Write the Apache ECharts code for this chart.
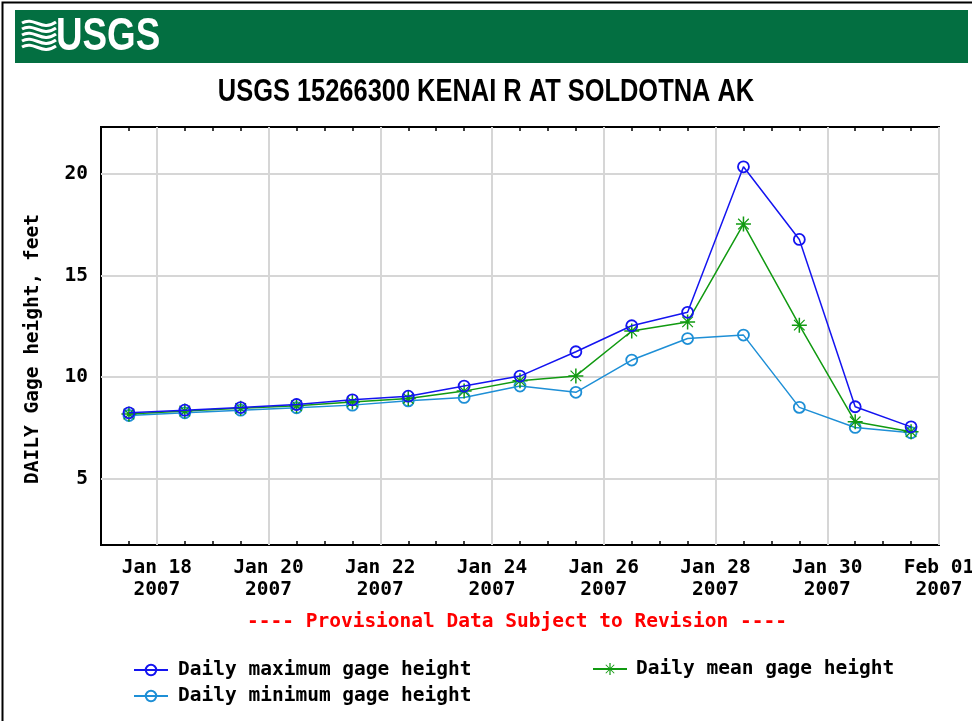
<!DOCTYPE html>
<html>
<head>
<meta charset="utf-8">
<script src="https://cdn.jsdelivr.net/npm/echarts@6/dist/echarts.min.js"></script>
<style>
html,body{margin:0;padding:0;background:#fff;}
#chart{width:972px;height:721px;}
</style>
</head>
<body>
<div id="chart"></div>
<script>
// ---- data ----
var dates = ['2007-01-17T12:00:00','2007-01-18T12:00:00','2007-01-19T12:00:00','2007-01-20T12:00:00',
  '2007-01-21T12:00:00','2007-01-22T12:00:00','2007-01-23T12:00:00','2007-01-24T12:00:00',
  '2007-01-25T12:00:00','2007-01-26T12:00:00','2007-01-27T12:00:00','2007-01-28T12:00:00',
  '2007-01-29T12:00:00','2007-01-30T12:00:00','2007-01-31T12:00:00'];
var maxVals  = [8.24, 8.37, 8.50, 8.65, 8.88, 9.06, 9.56, 10.05, 11.25, 12.53, 13.19, 20.36, 16.78, 8.54, 7.55];
var meanVals = [8.18, 8.33, 8.46, 8.59, 8.78, 8.95, 9.31, 9.82, 10.06, 12.27, 12.72, 17.54, 12.56, 7.80, 7.31];
var minVals  = [8.11, 8.24, 8.37, 8.49, 8.62, 8.83, 9.00, 9.56, 9.25, 10.84, 11.90, 12.07, 8.51, 7.52, 7.26];
var xTickDates  = ['2007-01-18','2007-01-20','2007-01-22','2007-01-24','2007-01-26','2007-01-28','2007-01-30','2007-02-01'];
var xTickLabels = ['Jan 18','Jan 20','Jan 22','Jan 24','Jan 26','Jan 28','Jan 30','Feb 01'];
var xTickYears  = ['2007','2007','2007','2007','2007','2007','2007','2007'];
var yTicks = [5, 10, 15, 20];
var seriesNames = ['Daily maximum gage height','Daily mean gage height','Daily minimum gage height'];
var titleText = 'USGS 15266300 KENAI R AT SOLDOTNA AK';
var yAxisTitle = 'DAILY Gage height, feet';
var noteText = '---- Provisional Data Subject to Revision ----';

function ts(s){ return new Date(s.length === 10 ? s + 'T00:00:00' : s).getTime(); }
var xMin = ts('2007-01-17'), xMax = ts('2007-02-01');
var tickTs = xTickDates.map(ts);
var labelMap = {};
tickTs.forEach(function(t,i){ labelMap[t] = '{a|' + xTickLabels[i] + '}\n{a|' + xTickYears[i] + '}'; });
// minor 12-hour ticks (excluding gridline positions)
var minorTicks = [];
for (var t = xMin + 43200000; t < xMax; t += 43200000) {
  if (tickTs.indexOf(t) < 0) minorTicks.push(t);
}
function pairs(vals){ return dates.map(function(d,i){ return [ts(d), vals[i]]; }); }

var MONO = '"DejaVu Sans Mono", "Liberation Mono", monospace';
var FS = 19.5;
var STAR = 'path://M-0.1,-1L0.1,-1L0.1,1L-0.1,1Z M-1,-0.1L1,-0.1L1,0.1L-1,0.1Z M-0.764,-0.65L-0.65,-0.764L0.764,0.65L0.65,0.764Z M0.65,-0.764L0.764,-0.65L-0.65,0.764L-0.764,0.65Z';

var cMax = '#1414f0', cMean = '#119a11', cMin = '#1e8fd6';

var chart = echarts.init(document.getElementById('chart'), null, {renderer:'canvas'});
var option = {
  animation: false,
  backgroundColor: '#fff',
  grid: { left: 101, top: 127, width: 838, height: 418, show: true, borderColor: '#000', borderWidth: 2, backgroundColor: 'transparent', containLabel: false, outerBoundsMode: 'none' },
  xAxis: [
    { type: 'value', min: xMin, max: xMax, position: 'bottom',
      axisLine: { show: false }, axisTick: { show: false, customValues: tickTs },
      splitLine: { show: true, lineStyle: { color: '#d6d6d6', width: 2 } },
      axisLabel: { customValues: tickTs, margin: 12, color: '#000',
        formatter: function(v){ return labelMap[v] || ''; },
        rich: { a: { fontFamily: MONO, fontWeight: 'bold', fontSize: FS, lineHeight: 22, color: '#000', align: 'center' } } } },
    { type: 'value', min: xMin, max: xMax, position: 'bottom', offset: 0,
      axisLine: { show: false }, axisLabel: { show: false }, splitLine: { show: false },
      axisTick: { show: true, inside: true, length: 4, customValues: minorTicks, lineStyle: { color: '#000', width: 1.5 } } },
    { type: 'value', min: xMin, max: xMax, position: 'top', offset: 0,
      axisLine: { show: false }, axisLabel: { show: false }, splitLine: { show: false },
      axisTick: { show: true, inside: true, length: 4, customValues: minorTicks, lineStyle: { color: '#000', width: 1.5 } } }
  ],
  yAxis: { type: 'value', min: 1.73, max: 22.32,
    axisLine: { show: false }, axisTick: { show: false, customValues: yTicks },
    splitLine: { show: true, lineStyle: { color: '#d6d6d6', width: 2 } },
    axisLabel: { customValues: yTicks, margin: 13, color: '#000', fontFamily: MONO, fontWeight: 'bold', fontSize: FS } },
  legend: [
    { data: [seriesNames[0], seriesNames[2]], orient: 'vertical', left: 133, top: 660, padding: 0, itemWidth: 34, itemHeight: 13, itemGap: 6,
      textStyle: { fontFamily: MONO, fontWeight: 'bold', fontSize: FS, color: '#000', padding: [0,0,0,5] } },
    { data: [seriesNames[1]], orient: 'vertical', left: 592, top: 659, padding: 0, itemWidth: 34, itemHeight: 15,
      textStyle: { fontFamily: MONO, fontWeight: 'bold', fontSize: FS, color: '#000', padding: [0,0,0,4] } }
  ],
  graphic: [
    { type: 'rect', shape: { x: 2.5, y: 2.5, width: 980, height: 730 }, style: { fill: 'none', stroke: '#000', lineWidth: 2 }, z: 0 },
    { type: 'rect', shape: { x: 15, y: 10, width: 953, height: 53 }, style: { fill: '#036f41' } },
    { type: 'group', x: 22, y: 18, children: [
      { type: 'bezierCurve', shape: { x1: 0, y1: 5, cpx1: 12, cpy1: -2, cpx2: 20, cpy2: 14, x2: 34, y2: 4 }, style: { stroke: '#fff', lineWidth: 3, fill: 'none' } },
      { type: 'bezierCurve', shape: { x1: 0, y1: 11, cpx1: 12, cpy1: 4, cpx2: 20, cpy2: 20, x2: 34, y2: 10 }, style: { stroke: '#fff', lineWidth: 3, fill: 'none' } },
      { type: 'bezierCurve', shape: { x1: 0, y1: 17, cpx1: 12, cpy1: 10, cpx2: 20, cpy2: 26, x2: 34, y2: 16 }, style: { stroke: '#fff', lineWidth: 3, fill: 'none' } },
      { type: 'bezierCurve', shape: { x1: 0, y1: 23, cpx1: 12, cpy1: 16, cpx2: 20, cpy2: 32, x2: 34, y2: 22 }, style: { stroke: '#fff', lineWidth: 3, fill: 'none' } },
      { type: 'bezierCurve', shape: { x1: 0, y1: 29, cpx1: 12, cpy1: 22, cpx2: 20, cpy2: 38, x2: 34, y2: 28 }, style: { stroke: '#fff', lineWidth: 3, fill: 'none' } }
    ] },
    { type: 'text', x: 56, y: 37, scaleX: 0.8, style: { text: 'USGS', fill: '#fff', font: 'bold 46px "Liberation Sans", Arial, sans-serif', textAlign: 'left', textVerticalAlign: 'middle' } },
    { type: 'text', x: 486, y: 92, scaleX: 0.82, style: { text: titleText, fill: '#000', font: 'bold 31px "Liberation Sans", Arial, sans-serif', textAlign: 'center', textVerticalAlign: 'middle' } },
    { type: 'text', x: 33, y: 349, rotation: Math.PI / 2, style: { text: yAxisTitle, fill: '#000', font: 'bold ' + FS + 'px ' + MONO, textAlign: 'center', textVerticalAlign: 'middle' } },
    { type: 'text', x: 517, y: 622, style: { text: noteText, fill: '#ff0000', font: 'bold ' + FS + 'px ' + MONO, textAlign: 'center', textVerticalAlign: 'middle' } }
  ],
  series: [
    { name: seriesNames[0], type: 'line', data: pairs(maxVals), symbol: 'circle', symbolSize: 11,
      lineStyle: { color: cMax, width: 1.5 }, itemStyle: { color: 'rgba(255,255,255,0)', borderColor: cMax, borderWidth: 1.8 }, z: 4 },
    { name: seriesNames[1], type: 'line', data: pairs(meanVals), symbol: STAR, symbolSize: 15,
      lineStyle: { color: cMean, width: 1.5 }, itemStyle: { color: cMean }, z: 3 },
    { name: seriesNames[2], type: 'line', data: pairs(minVals), symbol: 'circle', symbolSize: 11,
      lineStyle: { color: cMin, width: 1.5 }, itemStyle: { color: 'rgba(255,255,255,0)', borderColor: cMin, borderWidth: 1.8 }, z: 2 }
  ]
};
chart.setOption(option);
</script>
</body>
</html>
